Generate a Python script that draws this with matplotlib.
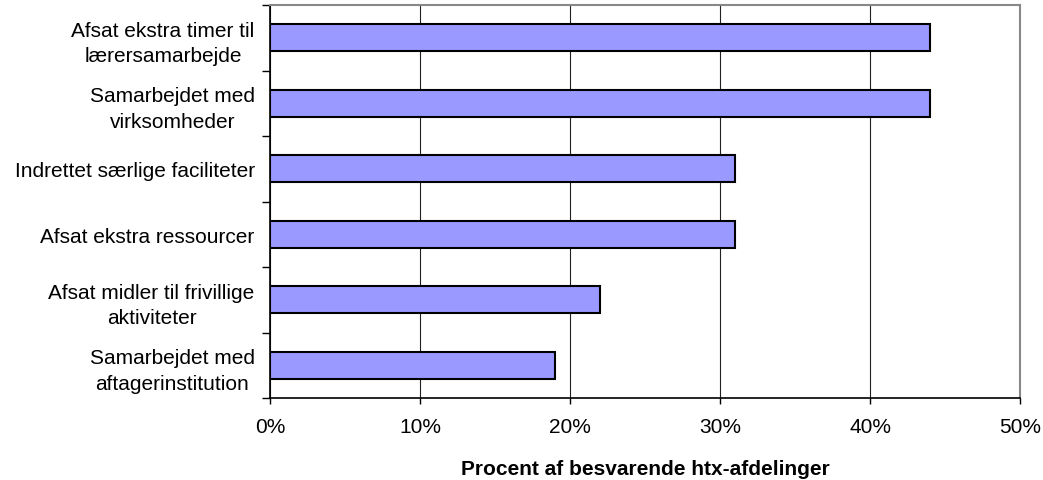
import matplotlib.pyplot as plt
from matplotlib.ticker import FuncFormatter

plt.rcParams['font.family'] = ['Liberation Sans', 'DejaVu Sans']

labels = ['Afsat ekstra timer til\nlærersamarbejde',
          'Samarbejdet med\nvirksomheder',
          'Indrettet særlige faciliteter',
          'Afsat ekstra ressourcer',
          'Afsat midler til frivillige\naktiviteter',
          'Samarbejdet med\naftagerinstitution']
values = [44, 44, 31, 31, 22, 19]
xticks = [0, 10, 20, 30, 40, 50]

fig = plt.figure(figsize=(10.43, 4.81), dpi=100)
ax = fig.add_axes([270/1043, 1-399/481, 750/1043, 393/481])

pos = list(range(len(values)))[::-1]
ax.barh(pos, values, height=0.41, color='#9999FF', edgecolor='black', linewidth=1.5, zorder=3)

ax.set_xlim(0, 50)
ax.set_ylim(-0.5, len(values) - 0.5)
ax.set_xticks(xticks)
ax.xaxis.set_major_formatter(FuncFormatter(lambda v, p: f'{v:.0f}%'))
ax.grid(axis='x', color='#222222', linewidth=0.8, zorder=0)

ax.set_yticks(pos)
ax.set_yticklabels(labels, multialignment='center', linespacing=1.45)
ax.set_yticks([p - 0.5 for p in range(len(values) + 1)], minor=True)
ax.tick_params(axis='y', which='major', length=0, pad=11, labelsize=15)
ax.tick_params(axis='y', which='minor', length=6, width=1)
ax.tick_params(axis='x', length=4, width=1, labelsize=15, pad=10)

for s in ['top', 'right']:
    ax.spines[s].set_color('#888888')
    ax.spines[s].set_linewidth(1.5)
for s in ['left', 'bottom']:
    ax.spines[s].set_color('black')
    ax.spines[s].set_linewidth(1.2)

ax.set_xlabel('Procent af besvarende htx-afdelinger', fontsize=15, fontweight='bold', labelpad=16)

fig.savefig('out.png', dpi=100)
